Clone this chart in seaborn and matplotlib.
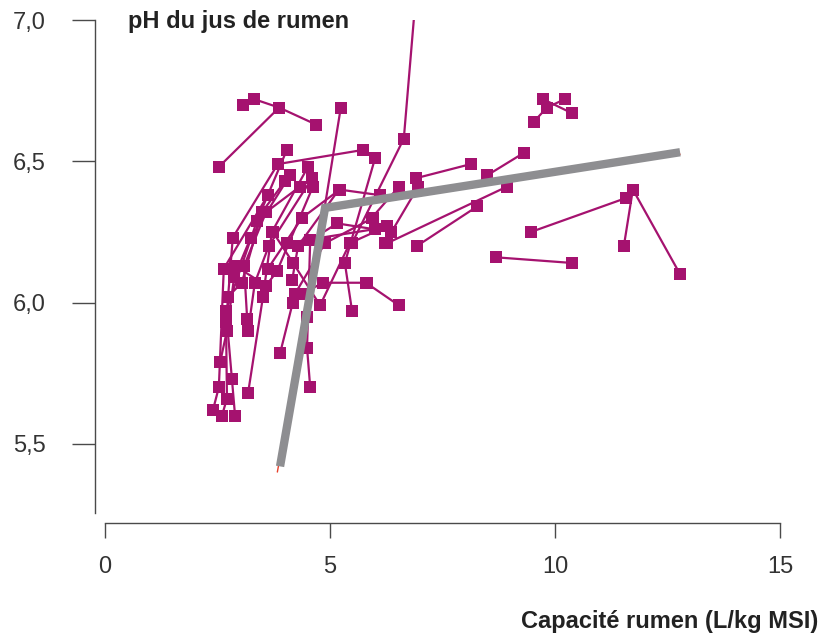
import seaborn as sns
import pandas as pd
import matplotlib.pyplot as plt

# one line per animal (several diets), capacity in L/kg MSI and rumen pH
vache = (["g01"] * 3 + ["g02"] * 3 + ["g03"] * 2 + ["g04"] * 3 + ["g05"] * 2 + ["g06"] * 3
         + ["g07"] * 2 + ["g08"] * 2 + ["g09"] * 2 + ["g10"] * 2 + ["g11"] * 2 + ["g12"] * 4
         + ["g13"] * 2 + ["g14"] * 2 + ["g15"] * 3 + ["g16"] * 2 + ["g17"] * 4 + ["g18"] * 5
         + ["g19"] * 5 + ["g20"] * 4 + ["g21"] * 5 + ["g22"] * 4 + ["g23"] * 4 + ["g24"] * 4
         + ["g25"] * 4 + ["g26"] * 3 + ["g27"] * 4 + ["g28"] * 4 + ["g29"] * 5 + ["g30"] * 4
         + ["g31"] * 4 + ["g32"] * 2 + ["g33"] * 2 + ["g34"] * 2 + ["g35"] * 2)

capacite = [2.53, 3.87, 4.69,  3.07, 3.31, 3.87,  4.49, 5.24,  5.49, 6.64, 7.02,
            3.84, 5.73,  5.49, 5.33, 6.00,  6.91, 8.13,  8.49, 9.31,  6.27, 8.93,
            5.80, 6.53,  6.93, 8.27,  9.47, 11.58, 11.73, 12.78,  11.53, 11.73,
            8.69, 10.38,  9.53, 9.82, 10.22,  9.73, 10.38,
            2.40, 2.53, 2.64, 3.62,  2.60, 2.71, 2.69, 2.84, 3.84,
            2.89, 2.82, 2.69, 3.38, 4.04,  3.18, 3.51, 3.71, 4.51,
            2.56, 2.71, 2.87, 3.24, 4.11,  2.73, 3.04, 3.49, 4.00,
            3.16, 3.09, 3.58, 4.33,  3.18, 3.33, 3.64, 4.60,
            2.89, 3.58, 3.82, 4.62,  3.62, 4.38, 5.22,
            3.89, 4.22, 4.89, 5.96,  4.56, 4.49, 4.56, 5.16,
            3.73, 4.18, 4.78, 5.44, 6.27,  4.18, 4.38, 4.84, 5.82,
            4.16, 4.29, 5.20, 6.11,  4.04, 6.00,  5.93, 6.53,  6.22, 6.96,  5.16, 6.36]

ph = [6.48, 6.69, 6.63,  6.70, 6.72, 6.69,  5.95, 6.69,  6.21, 6.58, 7.30,
      6.49, 6.54,  5.97, 6.14, 6.51,  6.44, 6.49,  6.45, 6.53,  6.21, 6.41,
      6.07, 5.99,  6.20, 6.34,  6.25, 6.37, 6.40, 6.10,  6.20, 6.40,
      6.16, 6.14,  6.64, 6.69, 6.72,  6.72, 6.67,
      5.62, 5.70, 6.12, 6.38,  5.60, 5.66, 5.93, 6.23, 6.49,
      5.60, 5.73, 5.97, 6.29, 6.54,  5.68, 6.02, 6.25, 6.48,
      5.79, 5.90, 6.09, 6.23, 6.45,  6.02, 6.07, 6.32, 6.43,
      5.94, 6.13, 6.32, 6.41,  5.90, 6.07, 6.20, 6.44,
      6.13, 6.06, 6.11, 6.41,  6.12, 6.30, 6.40,
      5.82, 6.03, 6.21, 6.30,  5.70, 5.84, 6.22, 6.28,
      6.25, 6.14, 5.99, 6.21, 6.27,  6.00, 6.03, 6.07, 6.07,
      6.08, 6.20, 6.40, 6.38,  6.21, 6.26,  6.30, 6.41,  6.21, 6.41,  6.28, 6.25]

# broken-line model
seg_x = [3.89, 4.89, 12.78]
seg_y = [5.42, 6.335, 6.532]
fit_x = [3.83, 4.90, 12.78]
fit_y = [5.40, 6.325, 6.525]

y_ticks = [5.5, 6.0, 6.5, 7.0]
y_labels = ["5,5", "6,0", "6,5", "7,0"]
x_ticks = [0, 5, 10, 15]

sns.set_style("white")
plt.rcParams["font.family"] = ["Liberation Sans", "DejaVu Sans"]

df = pd.DataFrame({"vache": vache, "capacite": capacite, "ph": ph})
seg = pd.DataFrame({"capacite": seg_x, "ph": seg_y})
fit = pd.DataFrame({"capacite": fit_x, "ph": fit_y})

fig = plt.figure(figsize=(8.2, 6.37), dpi=100)
ax = fig.add_axes([95 / 820, 124 / 637, 705 / 820, 493 / 637])

sns.lineplot(data=df, x="capacite", y="ph", units="vache", estimator=None, sort=False,
             color="#a5126f", linewidth=1.6, marker="s", markersize=8.5,
             markeredgewidth=0, ax=ax, legend=False)
sns.lineplot(data=fit, x="capacite", y="ph", sort=False, color="#e8402a", linewidth=1.0,
             ax=ax, legend=False)
sns.lineplot(data=seg, x="capacite", y="ph", sort=False, color="#8e8e91", linewidth=6,
             solid_capstyle="butt", solid_joinstyle="miter", ax=ax, legend=False)

ax.set_xlim(-0.222, 15.444)
ax.set_ylim(5.255, 7.0)
ax.set_xlabel("")
ax.set_ylabel("")

for s in ["top", "right"]:
    ax.spines[s].set_visible(False)
for s in ["left", "bottom"]:
    ax.spines[s].set_color("#4a4a4a")
    ax.spines[s].set_linewidth(1.0)
ax.spines["bottom"].set_position(("outward", 7.2))
ax.spines["bottom"].set_bounds(0, 15)

ax.set_yticks(y_ticks, y_labels)
ax.set_xticks(x_ticks)
ax.tick_params(axis="y", direction="out", length=16.5, width=1.0, color="#4a4a4a",
               pad=19, labelsize=17, labelcolor="#333333", left=True)
ax.tick_params(axis="x", direction="out", length=10.8, width=1.0, color="#4a4a4a",
               pad=13, labelsize=17, labelcolor="#333333", bottom=True)

fig.text(128 / 820, 1 - 28 / 637, "pH du jus de rumen", fontsize=17, fontweight="bold",
         color="#222222", ha="left", va="baseline")
fig.text(818 / 820, 1 - 628 / 637, "Capacité rumen (L/kg MSI)", fontsize=17,
         fontweight="bold", color="#222222", ha="right", va="baseline")

fig.savefig("out.png", dpi=100, facecolor="white")
